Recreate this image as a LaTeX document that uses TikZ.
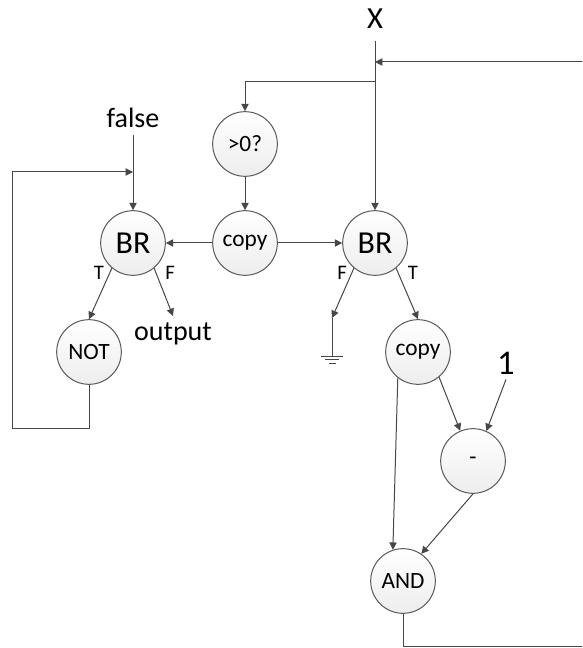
\documentclass[tikz,border=0pt]{standalone}
\usepackage{fontspec}
\setmainfont{Carlito}
\usetikzlibrary{arrows.meta}
\tikzset{
  op/.style={
    circle,
    draw=black!65,
    line width=0.75pt,
    minimum size=48.5pt,
    inner sep=0pt,
    top color=white,
    bottom color=black!7,
    font=\fontsize{17.5}{20}\selectfont
  },
  bigop/.style={op, font=\fontsize{24}{28}\selectfont},
  wire/.style={draw=black!72, line width=0.75pt},
  flow/.style={wire, -{Triangle[length=5.5pt,width=5.5pt]}},
  txt/.style={font=\fontsize{21}{24}\selectfont, inner sep=0pt},
  tf/.style={font=\fontsize{15.5}{18}\selectfont, inner sep=0pt},
}

\begin{document}
\begin{tikzpicture}[x=0.75pt, y=-0.75pt]
  \clip (0,0) rectangle (582,648);
  \node[op] (gt) at (245,144) {>0?};
  \node[op] (cpa) at (245,243) {copy};
  \node[bigop] (bra) at (133,243) {BR};
  \node[bigop] (brb) at (375,243) {BR};
  \node[op] (nt) at (89,352) {NOT};
  \node[op] (cpb) at (418,352) {copy};
  \node[op] (sub) at (473,461) {-};
  \node[op] (andn) at (403,581) {AND};
  \node[txt, font=\fontsize{23}{26}\selectfont] (xin) at (375,19) {X};
  \node[txt] (fls) at (133,118) {false};
  \node[txt] (out) at (173,334) {output};
  \node[txt, font=\fontsize{26}{30}\selectfont] (one) at (506,363) {1};
  \node[tf] at (99,273) {T};
  \node[tf] at (170,273) {F};
  \node[tf] at (342,273) {F};
  \node[tf] at (413,273) {T};
  \coordinate (split) at (375,82);
  \coordinate (join) at (375,62);
  \coordinate (fjoin) at (133,172);
  \coordinate (gnd) at (332,318);

  \draw[flow] ([yshift=-9pt]xin.south) -- (brb);
  \draw[flow] (split) -| (gt.north);
  \draw[flow] (gt) -- (cpa);
  \draw[flow] (cpa) -- (bra);
  \draw[flow] (cpa) -- (brb);
  \draw[flow] ([yshift=-5pt]fls.south) -- (bra);
  \draw[flow] (bra.-130) -- (nt.north);
  \draw[flow] (bra.-50) -- ([yshift=5pt]out.north);
  \draw[flow] (nt.south) |- (12,428) |- (fjoin);
  \draw[flow] (brb.-130) -- (gnd);
  \draw[wire] (gnd) -- ++(0,38);
  \draw[wire] (321,356) -- (343,356) (325,359.5) -- (339,359.5) (328.5,363) -- (335.5,363);
  \draw[flow] (brb.-50) -- (cpb.north);
  \draw[flow] (cpb.-50) -- (sub.113);
  \draw[flow] ([yshift=-3.75pt]one.south) -- (sub.66);
  \draw[flow] (cpb.-128) -- (andn.108);
  \draw[flow] (sub.south) -- (andn.56);
  \draw[flow] (andn.south) |- (592,646) |- (join);
\end{tikzpicture}
\end{document}
